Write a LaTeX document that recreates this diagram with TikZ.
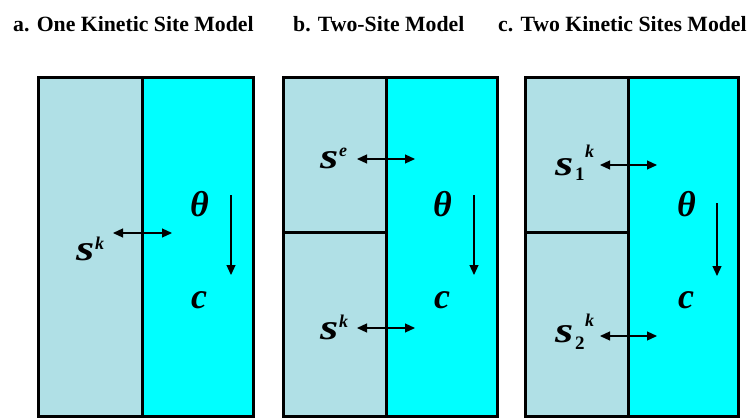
\documentclass[tikz,border=0pt]{standalone}
\usepackage{fontspec}
\setmainfont{Liberation Serif}
\usetikzlibrary{arrows.meta}
\definecolor{sitecol}{RGB}{176,224,230}
\definecolor{fluidcol}{RGB}{0,255,255}
\newcommand{\wides}{\scalebox{1.3}[1]{s}}
\tikzset{
 ttl/.style={anchor=base west, inner sep=0pt, font=\fontsize{21.75}{22}\selectfont\bfseries},
 bigsym/.style={anchor=base west, inner sep=0pt, font=\fontsize{36}{36}\selectfont\bfseries\itshape},
 supsym/.style={anchor=base west, inner sep=0pt, font=\fontsize{18}{18}\selectfont\bfseries\itshape},
 subsym/.style={anchor=base west, inner sep=0pt, font=\fontsize{19}{19}\selectfont\bfseries},
 sitebox/.style={fill=sitecol, draw=black, line width=3pt},
 fluidbox/.style={fill=fluidcol, draw=black, line width=3pt},
 exch/.style={{Triangle[length=10pt,width=9pt]}-{Triangle[length=10pt,width=9pt]}, line width=1.2pt},
 flow/.style={-{Triangle[length=10pt,width=9pt]}, line width=1.2pt},
}
\begin{document}
\begin{tikzpicture}[x=1pt,y=-1pt]
\useasboundingbox (0,0) rectangle (753,418);
\begin{scope}
\clip (0,0) rectangle (753,418);
% titles
\node[ttl] (ta) at (13,31) {a. One Kinetic Site Model};
\node[ttl] (tb) at (293,31) {b. Two-Site Model};
\node[ttl] (tc) at (498,31) {c. Two Kinetic Sites Model};
% panel a
\draw[fluidbox] (142,77) rectangle (253,416);
\draw[sitebox] (38,77) rectangle (142,416);
% panel b
\draw[fluidbox] (386,77) rectangle (497,416);
\draw[sitebox] (283,77) rectangle (386,232);
\draw[sitebox] (283,232) rectangle (386,416);
% panel c
\draw[fluidbox] (628,77) rectangle (738,416);
\draw[sitebox] (525,77) rectangle (628,232);
\draw[sitebox] (525,232) rectangle (628,416);

% panel a symbols
\node[bigsym] (sa) at (76,260) {\wides};
\node[supsym] (ka) at (95,249) {k};
\node[bigsym] (tha) at (190,216) {θ};
\node[bigsym] (ca) at (191,308) {c};
\coordinate (a1) at (113,233); \coordinate (a2) at (172,233);
\draw[exch] (a1) -- (a2);
\coordinate (a3) at (231,195); \coordinate (a4) at (231,275);
\draw[flow] (a3) -- (a4);

% panel b symbols
\node[bigsym] (sb1) at (320,168) {\wides};
\node[supsym] (eb) at (339,156) {e};
\node[bigsym] (sb2) at (320,339) {\wides};
\node[supsym] (kb) at (339,327) {k};
\node[bigsym] (thb) at (433,216) {θ};
\node[bigsym] (cb) at (434,308) {c};
\coordinate (b1) at (357,159); \coordinate (b2) at (415,159);
\draw[exch] (b1) -- (b2);
\coordinate (b3) at (357,328); \coordinate (b4) at (415,328);
\draw[exch] (b3) -- (b4);
\coordinate (b5) at (474,195); \coordinate (b6) at (474,275);
\draw[flow] (b5) -- (b6);

% panel c symbols
\node[bigsym] (sc1) at (555,175) {\wides};
\node[subsym] (oc) at (575,180) {1};
\node[supsym] (kc1) at (585,157) {k};
\node[bigsym] (sc2) at (555,342) {\wides};
\node[subsym] (twc) at (575,349) {2};
\node[supsym] (kc2) at (585,326) {k};
\node[bigsym] (thc) at (677,216) {θ};
\node[bigsym] (cc) at (678,308) {c};
\coordinate (c1) at (600,165); \coordinate (c2) at (657,165);
\draw[exch] (c1) -- (c2);
\coordinate (c3) at (600,336); \coordinate (c4) at (657,336);
\draw[exch] (c3) -- (c4);
\coordinate (c5) at (717,203); \coordinate (c6) at (717,276);
\draw[flow] (c5) -- (c6);
\end{scope}
\end{tikzpicture}
\end{document}
